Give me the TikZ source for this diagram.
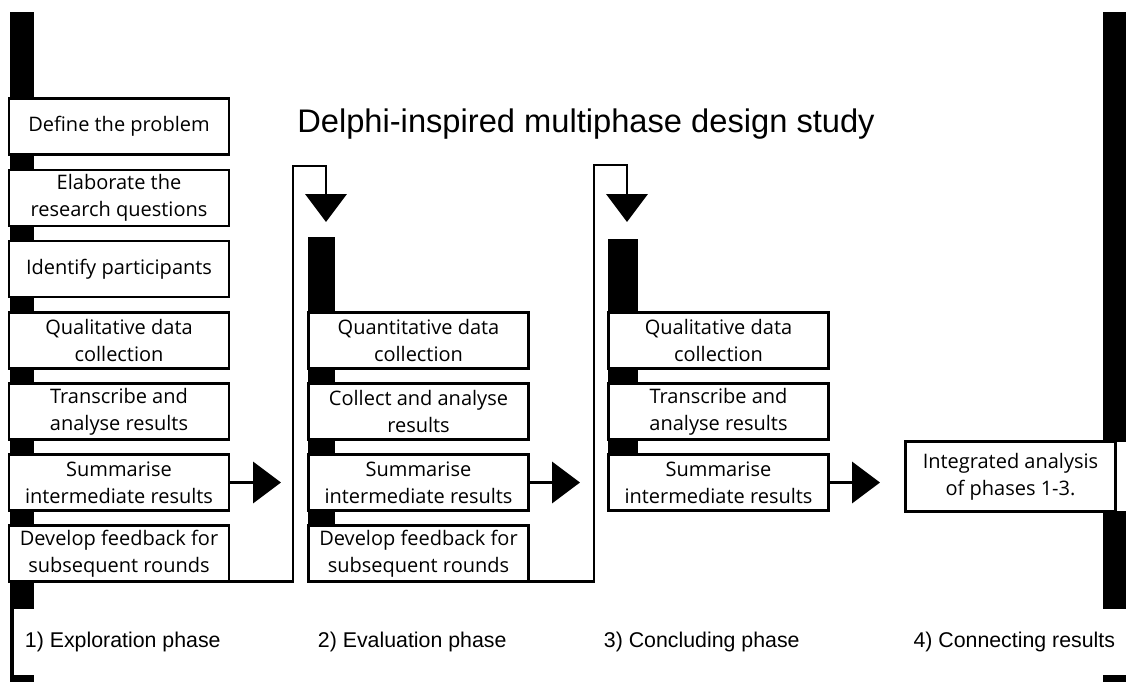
\documentclass[tikz,border=0pt]{standalone}
\usepackage{fontspec}
\setmainfont{Open Sans}
\newfontfamily\titlefont{Liberation Sans}
\usetikzlibrary{arrows.meta}

\begin{document}
\begin{tikzpicture}[x=0.75pt, y=-0.75pt,
  task/.style={draw, line width=2.2pt, fill=white, minimum width=165pt, minimum height=42pt, inner sep=0pt, align=center, font=\fontsize{15}{20}\selectfont},
  phase/.style={fill=white, inner xsep=8pt, inner ysep=0pt, minimum height=50pt, font=\titlefont\fontsize{16}{19}\selectfont},
  flow/.style={line width=1.9pt, -{Triangle[length=21pt,width=31pt]}}]
\useasboundingbox (0,0) rectangle (1126,682);

% Bars
\fill (10,12) rectangle (34,682);
\fill (308,237) rectangle (335,530);
\fill (608,239) rectangle (638,500);
\fill (1103,12) rectangle (1126,442);
\fill (1103,511) rectangle (1126,682);

% Title
\node[font=\titlefont\fontsize{24.5}{29}\selectfont] (t) at (586,124) {Delphi-inspired multiphase design study};

% Phase 1
\node[task] (a1) at (119,126.5) {Define the problem};
\node[task] (a2) at (119,198) {Elaborate the\\research questions};
\node[task] (a3) at (119,269) {Identify participants};
\node[task] (a4) at (119,340.5) {Qualitative data\\collection};
\node[task] (a5) at (119,411.5) {Transcribe and\\analyse results};
\node[task] (a6) at (119,482.5) {Summarise\\intermediate results};
\node[task] (a7) at (119,553.5) {Develop feedback for\\subsequent rounds};

% Phase 2
\node[task] (b4) at (418.5,340.5) {Quantitative data\\collection};
\node[task] (b5) at (418.5,411.5) {Collect and analyse\\results};
\node[task] (b6) at (418.5,482.5) {Summarise\\intermediate results};
\node[task] (b7) at (418.5,553.5) {Develop feedback for\\subsequent rounds};

% Phase 3
\node[task] (c4) at (718.5,340.5) {Qualitative data\\collection};
\node[task] (c5) at (718.5,411.5) {Transcribe and\\analyse results};
\node[task] (c6) at (718.5,482.5) {Summarise\\intermediate results};

% Phase 4
\node[task, minimum width=157pt, minimum height=52pt] (int) at (1010.5,476.5) {Integrated analysis\\of phases 1-3.};

% Ends
\coordinate (o1) at (281,482.5);
\coordinate (o2) at (580,482.5);
\coordinate (o3) at (880,482.5);
\coordinate (r1) at (293,166);
\coordinate (r2) at (594,165);
\coordinate (in2) at (326,222);
\coordinate (in3) at (627,222);

%Arrows
\draw[flow] (a6.east) -- (o1);
\draw[flow] (b6.east) -- (o2);
\draw[flow] (c6.east) -- (o3);
\draw[flow] ([yshift=1pt]a7.south east) -| (r1) -| (in2);
\draw[flow] ([yshift=1pt]b7.south east) -| (r2) -| (in3);

% Phase labels
\node[phase, anchor=west] (p1) at (14,642) {1) Exploration phase};
\node[phase, anchor=west] (p2) at (307,642) {2) Evaluation phase};
\node[phase, anchor=west] (p3) at (593,642) {3) Concluding phase};
\node[phase, anchor=east] (p4) at (1126,642) {4) Connecting results};
\end{tikzpicture}
\end{document}
